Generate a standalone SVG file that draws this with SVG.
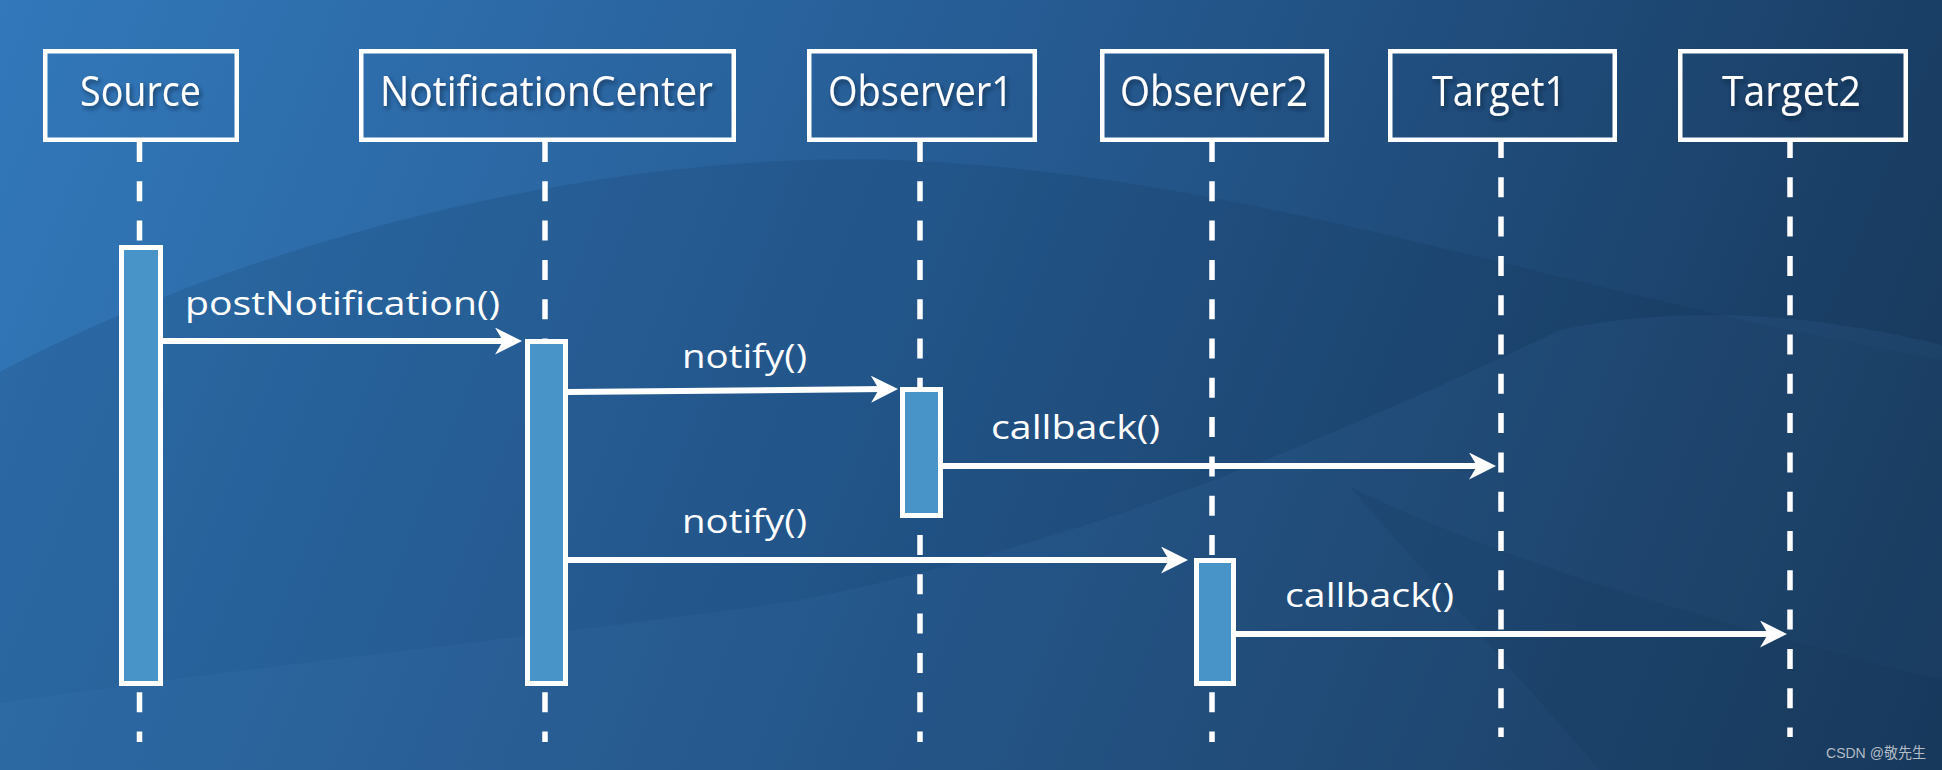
<svg xmlns="http://www.w3.org/2000/svg" width="1942" height="770" viewBox="0 0 1942 770">
  <defs>
    <linearGradient id="bg" x1="0" y1="0" x2="1942" y2="770" gradientUnits="userSpaceOnUse">
      <stop offset="0" stop-color="#3278ba"/>
      <stop offset="0.45" stop-color="#265c94"/>
      <stop offset="1" stop-color="#163556"/>
    </linearGradient>
    <filter id="shadow" x="-10%" y="-20%" width="130%" height="150%">
      <feDropShadow dx="2" dy="3" stdDeviation="2" flood-color="#0a1e36" flood-opacity="0.6"/>
    </filter>
    <marker id="arrow" markerUnits="userSpaceOnUse" markerWidth="30" markerHeight="30" refX="15" refY="13.5" orient="auto">
      <path d="M0,0 L27,13.5 L0,27 L8,13.5 Z" fill="#ffffff"/>
    </marker>
    <style>
      .box { fill: none; stroke: #ffffff; stroke-width: 4.5; }
      .title { font-family: "Open Sans", "Noto Sans", sans-serif; font-size: 42px; fill: #ffffff; }
      .label { font-family: "Open Sans", "Noto Sans", sans-serif; font-size: 32px; fill: #ffffff; }
      .life { stroke: #ffffff; stroke-width: 5.5; stroke-dasharray: 20 19.3; fill: none; }
      .act { fill: #4893c8; stroke: #ffffff; stroke-width: 5; }
      .msg { stroke: #ffffff; stroke-width: 6; fill: none; marker-end: url(#arrow); }
    </style>
  </defs>

  <!-- background -->
  <rect x="0" y="0" width="1942" height="770" fill="url(#bg)"/>
  <path d="M0,372 C250,240 600,150 900,160 C1250,175 1550,290 1942,360 L1942,770 L0,770 Z" fill="#0b2748" opacity="0.14"/>
  <path d="M0,703 C300,660 600,630 800,600 C1100,540 1350,430 1560,330 C1700,300 1840,320 1942,345 L1942,770 L0,770 Z" fill="#4a86c2" opacity="0.10"/>
  <path d="M1350,487 C1500,560 1700,620 1942,680 L1942,770 L1600,770 Z" fill="#0b2442" opacity="0.10"/>

  <!-- lifelines -->
  <g id="lifelines">
    <line class="life" x1="139.5" y1="142" x2="139.5" y2="742"/>
    <line class="life" x1="545" y1="142" x2="545" y2="742"/>
    <line class="life" x1="920" y1="142" x2="920" y2="742"/>
    <line class="life" x1="1212" y1="142" x2="1212" y2="742"/>
    <line class="life" x1="1501" y1="142" x2="1501" y2="737" stroke-dashoffset="4"/>
    <line class="life" x1="1790" y1="142" x2="1790" y2="737" stroke-dashoffset="4"/>
  </g>

  <!-- nodes -->
  <g id="source">
    <rect class="box" x="45.25" y="51.25" width="191.5" height="88.5"/>
    <text class="title" x="80" y="106" textLength="121" lengthAdjust="spacingAndGlyphs" filter="url(#shadow)">Source</text>
    <rect class="act" x="121.5" y="247.5" width="39" height="436"/>
  </g>
  <g id="notificationcenter">
    <rect class="box" x="361.25" y="51.25" width="372.5" height="88.5"/>
    <text class="title" x="380" y="106" textLength="333" lengthAdjust="spacingAndGlyphs" filter="url(#shadow)">NotificationCenter</text>
    <rect class="act" x="527.5" y="341.5" width="38" height="342"/>
  </g>
  <g id="observer1">
    <rect class="box" x="809.25" y="51.25" width="225.5" height="88.5"/>
    <text class="title" x="828" y="106" textLength="185" lengthAdjust="spacingAndGlyphs" filter="url(#shadow)">Observer1</text>
    <rect class="act" x="902.5" y="389.5" width="38" height="126"/>
  </g>
  <g id="observer2">
    <rect class="box" x="1102.25" y="51.25" width="224.5" height="88.5"/>
    <text class="title" x="1120" y="106" textLength="188" lengthAdjust="spacingAndGlyphs" filter="url(#shadow)">Observer2</text>
    <rect class="act" x="1196.5" y="560.5" width="37" height="123"/>
  </g>
  <g id="target1">
    <rect class="box" x="1390.25" y="51.25" width="224.5" height="88.5"/>
    <text class="title" x="1432" y="106" textLength="134" lengthAdjust="spacingAndGlyphs" filter="url(#shadow)">Target1</text>
  </g>
  <g id="target2">
    <rect class="box" x="1680.25" y="51.25" width="225.5" height="88.5"/>
    <text class="title" x="1722" y="106" textLength="139" lengthAdjust="spacingAndGlyphs" filter="url(#shadow)">Target2</text>
  </g>

  <!-- connectors -->
  <g id="messages">
    <line class="msg" x1="163" y1="341" x2="510" y2="341"/>
    <text class="label" x="185" y="315" textLength="315" lengthAdjust="spacingAndGlyphs">postNotification()</text>
    <line class="msg" x1="568" y1="392" x2="886" y2="389.1"/>
    <text class="label" x="682" y="368" textLength="125" lengthAdjust="spacingAndGlyphs">notify()</text>
    <line class="msg" x1="943" y1="466" x2="1484" y2="466"/>
    <text class="label" x="991" y="439" textLength="169" lengthAdjust="spacingAndGlyphs">callback()</text>
    <line class="msg" x1="568" y1="560" x2="1176" y2="560"/>
    <text class="label" x="682" y="533" textLength="125" lengthAdjust="spacingAndGlyphs">notify()</text>
    <line class="msg" x1="1236" y1="634" x2="1775" y2="634"/>
    <text class="label" x="1285" y="607" textLength="169" lengthAdjust="spacingAndGlyphs">callback()</text>
  </g>

  <text x="1826" y="758" font-family="'Liberation Sans', 'Noto Sans CJK SC', sans-serif" font-size="15" fill="#b4bcc6" textLength="100" lengthAdjust="spacingAndGlyphs">CSDN @敬先生</text>
</svg>
